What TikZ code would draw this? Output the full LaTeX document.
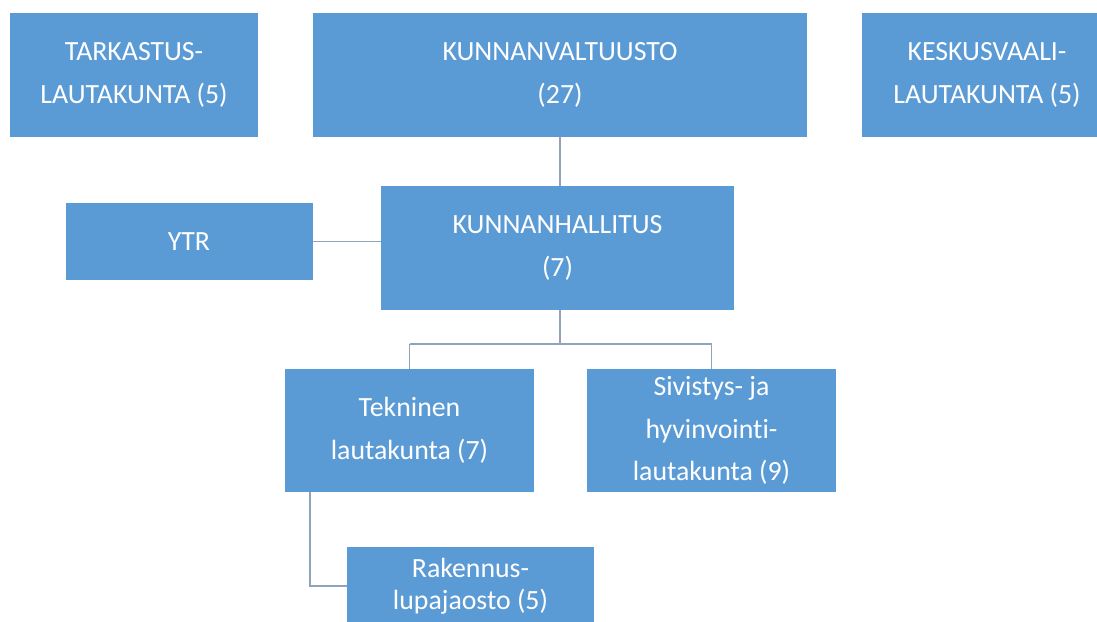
\documentclass[tikz,border=0pt]{standalone}
\usepackage{fontspec}
\setmainfont[Ligatures={NoCommon}]{Carlito}
\definecolor{boxblue}{HTML}{5B9BD5}
\definecolor{linegray}{HTML}{8FA3BB}
\begin{document}
\begin{tikzpicture}[x=1pt,y=-1pt,
  orgbox/.style={fill=boxblue, draw=none, text=white, inner sep=0pt, outer sep=0pt, align=center,
    font=\fontsize{27.8}{42.5}\selectfont},
  link/.style={draw=linegray, line width=1.6pt}]
\useasboundingbox[fill=white] (0,0) rectangle (1097,621);
\node[orgbox, minimum width=248pt, minimum height=124pt] (tark) at (134,75) {TARKASTUS-\\LAUTAKUNTA (5)};
\node[orgbox, minimum width=494pt, minimum height=124pt] (kv) at (560,75) {KUNNANVALTUUSTO\\(27)};
\node[orgbox, minimum width=250pt, minimum height=124pt] (kesk) at (987,75) {KESKUSVAALI-\\LAUTAKUNTA (5)};
\node[orgbox, minimum width=247pt, minimum height=77pt] (ytr) at (189,241.5) {YTR};
\node[orgbox, minimum width=353pt, minimum height=124pt] (kh) at (557.5,248) {KUNNANHALLITUS\\(7)};
\node[orgbox, minimum width=249pt, minimum height=123pt] (tek) at (409.5,430.5) {Tekninen\\lautakunta (7)};
\node[orgbox, minimum width=249pt, minimum height=123pt] (siv) at (711.5,430.5) {Sivistys- ja\\hyvinvointi-\\lautakunta (9)};
\node[orgbox, minimum width=247pt, minimum height=78pt, font=\fontsize{27.8}{31.5}\selectfont] (rak) at (470.5,586) {Rakennus-\\lupajaosto (5)};
\coordinate (split) at (560,344);
\draw[link] (kv.south -| split) -- (kh.north -| split);
\draw[link] (ytr.east) -- (ytr.east -| kh.west);
\draw[link] (kh.south -| split) -- (split);
\draw[link] (split -| 409.5,0) -- (split -| 711.5,0);
\draw[link] (tek.north) -- (tek.north |- split);
\draw[link] (siv.north) -- (siv.north |- split);
\draw[link] (tek.south -| 310,0) |- (rak.west);
\end{tikzpicture}
\end{document}
